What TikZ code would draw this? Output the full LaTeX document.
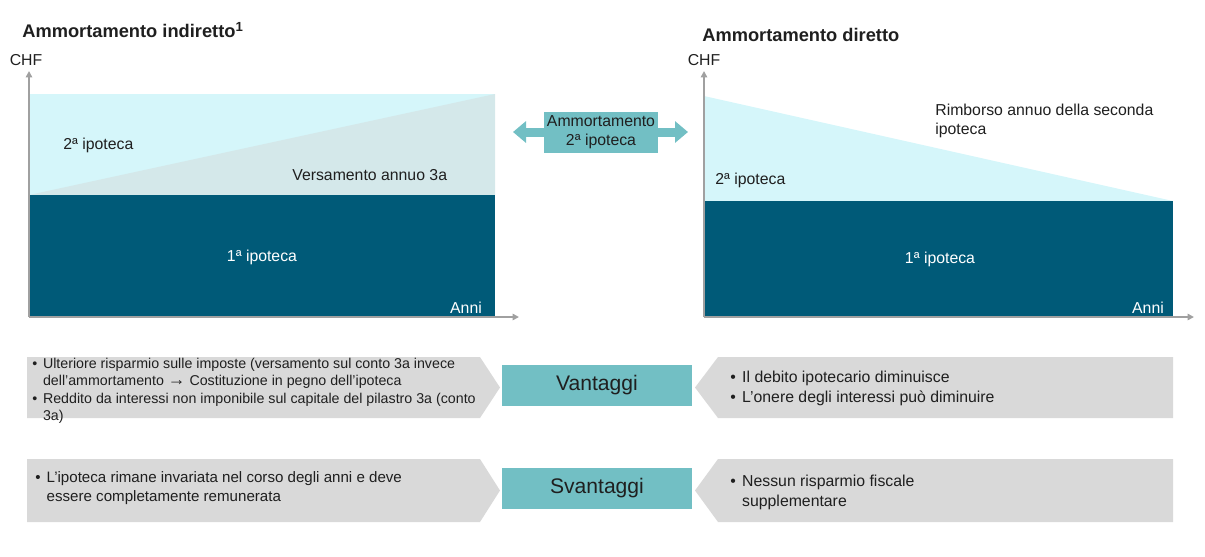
\documentclass[tikz,border=0pt]{standalone}
\usepackage{fontspec}
\setmainfont{Liberation Sans}
\usepackage{tikz}
\usetikzlibrary{arrows.meta,positioning}
\definecolor{IpoDark}{HTML}{005A78}
\definecolor{IpoLight}{HTML}{D5F6FA}
\definecolor{IpoMix}{HTML}{D4E8EA}
\definecolor{IpoTeal}{HTML}{72BFC4}
\definecolor{IpoGrey}{HTML}{D9D9D9}
\definecolor{IpoAxis}{HTML}{A0A0A0}
\definecolor{IpoText}{HTML}{1F1F1F}
\newcommand{\bul}{\makebox[0.75em][l]{\textbullet}}
\newcommand{\hang}{\hspace*{0.75em}}

\begin{document}
\begin{tikzpicture}[
    x=0.02cm,y=-0.02cm,
    every node/.style={text=IpoText,inner sep=0pt},
    title/.style={anchor=west,font=\fontsize{10.4}{12}\selectfont\bfseries},
    lbl/.style={font=\fontsize{9}{10.8}\selectfont},
    inlbl/.style={lbl,text=white},
    axis/.style={-{Triangle[length=3.6pt,width=3.6pt]},line width=1.1pt,IpoAxis},
    tag/.style={fill=IpoTeal,minimum width=3.8cm,minimum height=0.82cm,font=\fontsize{12}{14}\selectfont},
    pts/.style={anchor=west,align=left,font=\fontsize{9}{11.3}\selectfont},
    dbl/.style={{Triangle[length=0.26cm,width=0.42cm]}-{Triangle[length=0.26cm,width=0.42cm]},line width=0.18cm,IpoTeal}
  ]
    \useasboundingbox (0,0) rectangle (1205,556);

    % indirect amortisation
    \fill[IpoLight] (29,94) rectangle (495,195);
    \fill[IpoMix] (29,195) -- (495,94) -- (495,195) -- cycle;
    \fill[IpoDark] (29,195) rectangle (495,317);
    \coordinate (o1) at (29,317);
    \coordinate (y1) at (29,71);
    \coordinate (x1) at (519,317);
    \draw[axis] (o1) -- (y1);
    \draw[axis] (o1) -- (x1);
    \node[title] (ind) at (22,30) {Ammortamento indiretto\textsuperscript{\fontsize{7.5}{8}\selectfont 1}};
    \node[lbl] (chf1) at (26,60) {CHF};
    \node[lbl,anchor=west] (sec1) at (63,145) {2ª ipoteca};
    \node[lbl,anchor=west] (vers) at (292,175) {Versamento annuo 3a};
    \node[inlbl] (fst1) at (262,257) {1ª ipoteca};
    \node[inlbl] (anni1) at (466,308) {Anni};

    % direct amortisation
    \fill[IpoLight] (704,96) -- (1173,201) -- (704,201) -- cycle;
    \fill[IpoDark] (704,201) rectangle (1173,317);
    \coordinate (o2) at (704,317);
    \coordinate (y2) at (704,71);
    \coordinate (x2) at (1194,317);
    \draw[axis] (o2) -- (y2);
    \draw[axis] (o2) -- (x2);
    \node[title] (dir) at (702,35) {Ammortamento diretto};
    \node[lbl] (chf2) at (704,60) {CHF};
    \node[lbl,anchor=west,align=left] (rimb) at (935,120.5) {Rimborso annuo della seconda\\ipoteca};
    \node[lbl,anchor=west] (sec2) at (715,180) {2ª ipoteca};
    \node[inlbl] (fst2) at (940,259) {1ª ipoteca};
    \node[inlbl] (anni2) at (1148,308) {Anni};

    % link between the two
    \coordinate (aL) at (513,132);
    \coordinate (aR) at (688,132);
    \draw[dbl] (aL) -- (aR);
    \node[tag,minimum width=2.28cm,align=center,font=\fontsize{9}{10.8}\selectfont] (amm) at (601,132.5) {Ammortamento\\2ª ipoteca};

    % pros and cons
    \fill[IpoGrey] (27,357) -- (480,357) -- (500,387.5) -- (480,418) -- (27,418) -- cycle;
    \fill[IpoGrey] (718,357) -- (1173,357) -- (1173,418) -- (718,418) -- (695,387.5) -- cycle;
    \fill[IpoGrey] (27,459) -- (480,459) -- (500,490.5) -- (480,522) -- (27,522) -- cycle;
    \fill[IpoGrey] (718,459) -- (1173,459) -- (1173,522) -- (718,522) -- (695,490.5) -- cycle;
    \node[tag] (pro) at (597,385.5) {Vantaggi};
    \node[tag] (con) at (597,488.5) {Svantaggi};
    \node[pts,font=\fontsize{8.1}{9.9}\selectfont] (proind) at (32,391) {\bul Ulteriore risparmio sulle imposte (versamento sul conto 3a invece\\\hang dell’ammortamento {\bfseries\fontsize{10}{9.9}\selectfont →} Costituzione in pegno dell’ipoteca\\\bul Reddito da interessi non imponibile sul capitale del pilastro 3a (conto\\\hang 3a)};
    \node[pts] (prodir) at (730,388) {\bul Il debito ipotecario diminuisce\\\bul L’onere degli interessi può diminuire};
    \node[pts,font=\fontsize{8.6}{10.8}\selectfont] (conind) at (35,488) {\bul L’ipoteca rimane invariata nel corso degli anni e deve\\\hang essere completamente remunerata};
    \node[pts] (condir) at (730,492) {\bul Nessun risparmio fiscale\\\hang supplementare};
  \end{tikzpicture}
\end{document}
